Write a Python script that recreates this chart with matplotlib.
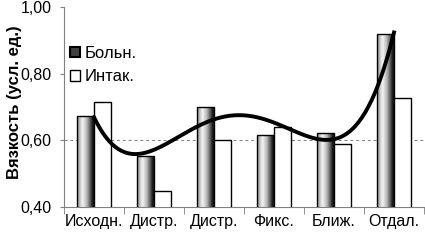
import numpy as np
import matplotlib
matplotlib.use("Agg")
import matplotlib.pyplot as plt
from matplotlib.colors import LinearSegmentedColormap
from matplotlib.patches import Patch
from matplotlib.ticker import FuncFormatter

plt.rcParams['font.family'] = ['Liberation Sans', 'DejaVu Sans']

categories = ["Исходн.", "Дистр.", "Дистр.", "Фикс.", "Ближ.", "Отдал."]
bolnye = [0.673, 0.553, 0.700, 0.616, 0.622, 0.920]
intakt = [0.715, 0.448, 0.600, 0.640, 0.589, 0.727]

fig = plt.figure(figsize=(4.25, 2.41), dpi=100)
ax = fig.add_axes([64/425, 34/241, 360/425, 200/241])

x = np.arange(1, len(categories) + 1)
w = 0.285

# cylinder-like shading for the "Больн." bars
cyl = LinearSegmentedColormap.from_list("cyl", [(0, "#8a8a8a"), (0.3, "#f6f6f6"),
                                               (0.55, "#b8b8b8"), (0.9, "#101010"), (1, "#303030")])
grad = np.linspace(0, 1, 64).reshape(1, -1)
bars = ax.bar(x - w/2, bolnye, w, bottom=0, facecolor="none", edgecolor="black", lw=1, zorder=3)
for b in bars:
    x0, y0 = b.get_x(), 0.40
    im = ax.imshow(grad, cmap=cyl, aspect="auto", extent=[x0, x0 + b.get_width(), y0, b.get_height()],
                   zorder=2, interpolation="bilinear")
    im.set_clip_path(b)

ax.bar(x + w/2, intakt, w, facecolor="white", edgecolor="black", lw=1, zorder=3)

# polynomial trend of the "Больн." series
coef = np.polyfit(x, bolnye, 4)
xs = np.linspace(1, 6, 200)
ax.plot(xs, np.polyval(coef, xs), color="black", lw=2.8, zorder=4)

ax.axhline(0.60, color="gray", ls=(0, (3, 3)), lw=0.7, zorder=1)

ax.set_xlim(0.5, 6.5)
ax.set_ylim(0.40, 1.00)
ax.set_yticks([0.40, 0.60, 0.80, 1.00])
ax.yaxis.set_major_formatter(FuncFormatter(lambda v, p: f"{v:.2f}".replace(".", ",")))
ax.set_xticks(x)
ax.set_xticklabels(categories)
ax.set_xticks(np.arange(0.5, 7.0, 1.0), minor=True)
ax.tick_params(axis="x", which="major", length=0, pad=5, labelsize=11.5)
ax.tick_params(axis="x", which="minor", length=5, color="gray", direction="out")
ax.tick_params(axis="y", length=3, color="gray", labelsize=11.5, pad=6)

for s in ["top", "right"]:
    ax.spines[s].set_visible(False)
ax.spines["left"].set_color("gray")
ax.spines["bottom"].set_color("gray")

ax.set_ylabel("Вязкость (усл. ед.)", fontsize=12, fontweight="bold", va="center")
ax.yaxis.set_label_coords(-0.138, 0.525)

handles = [Patch(facecolor="#404040", edgecolor="black", lw=1.5, label="Больн."),
           Patch(facecolor="white", edgecolor="black", lw=1, label="Интак.")]
ax.legend(handles=handles, loc="upper left", bbox_to_anchor=(-0.025, 0.88), frameon=False,
          fontsize=12, handlelength=0.6, handleheight=0.6, handletextpad=0.3, labelspacing=0.5)

fig.savefig("out.png", dpi=100)
